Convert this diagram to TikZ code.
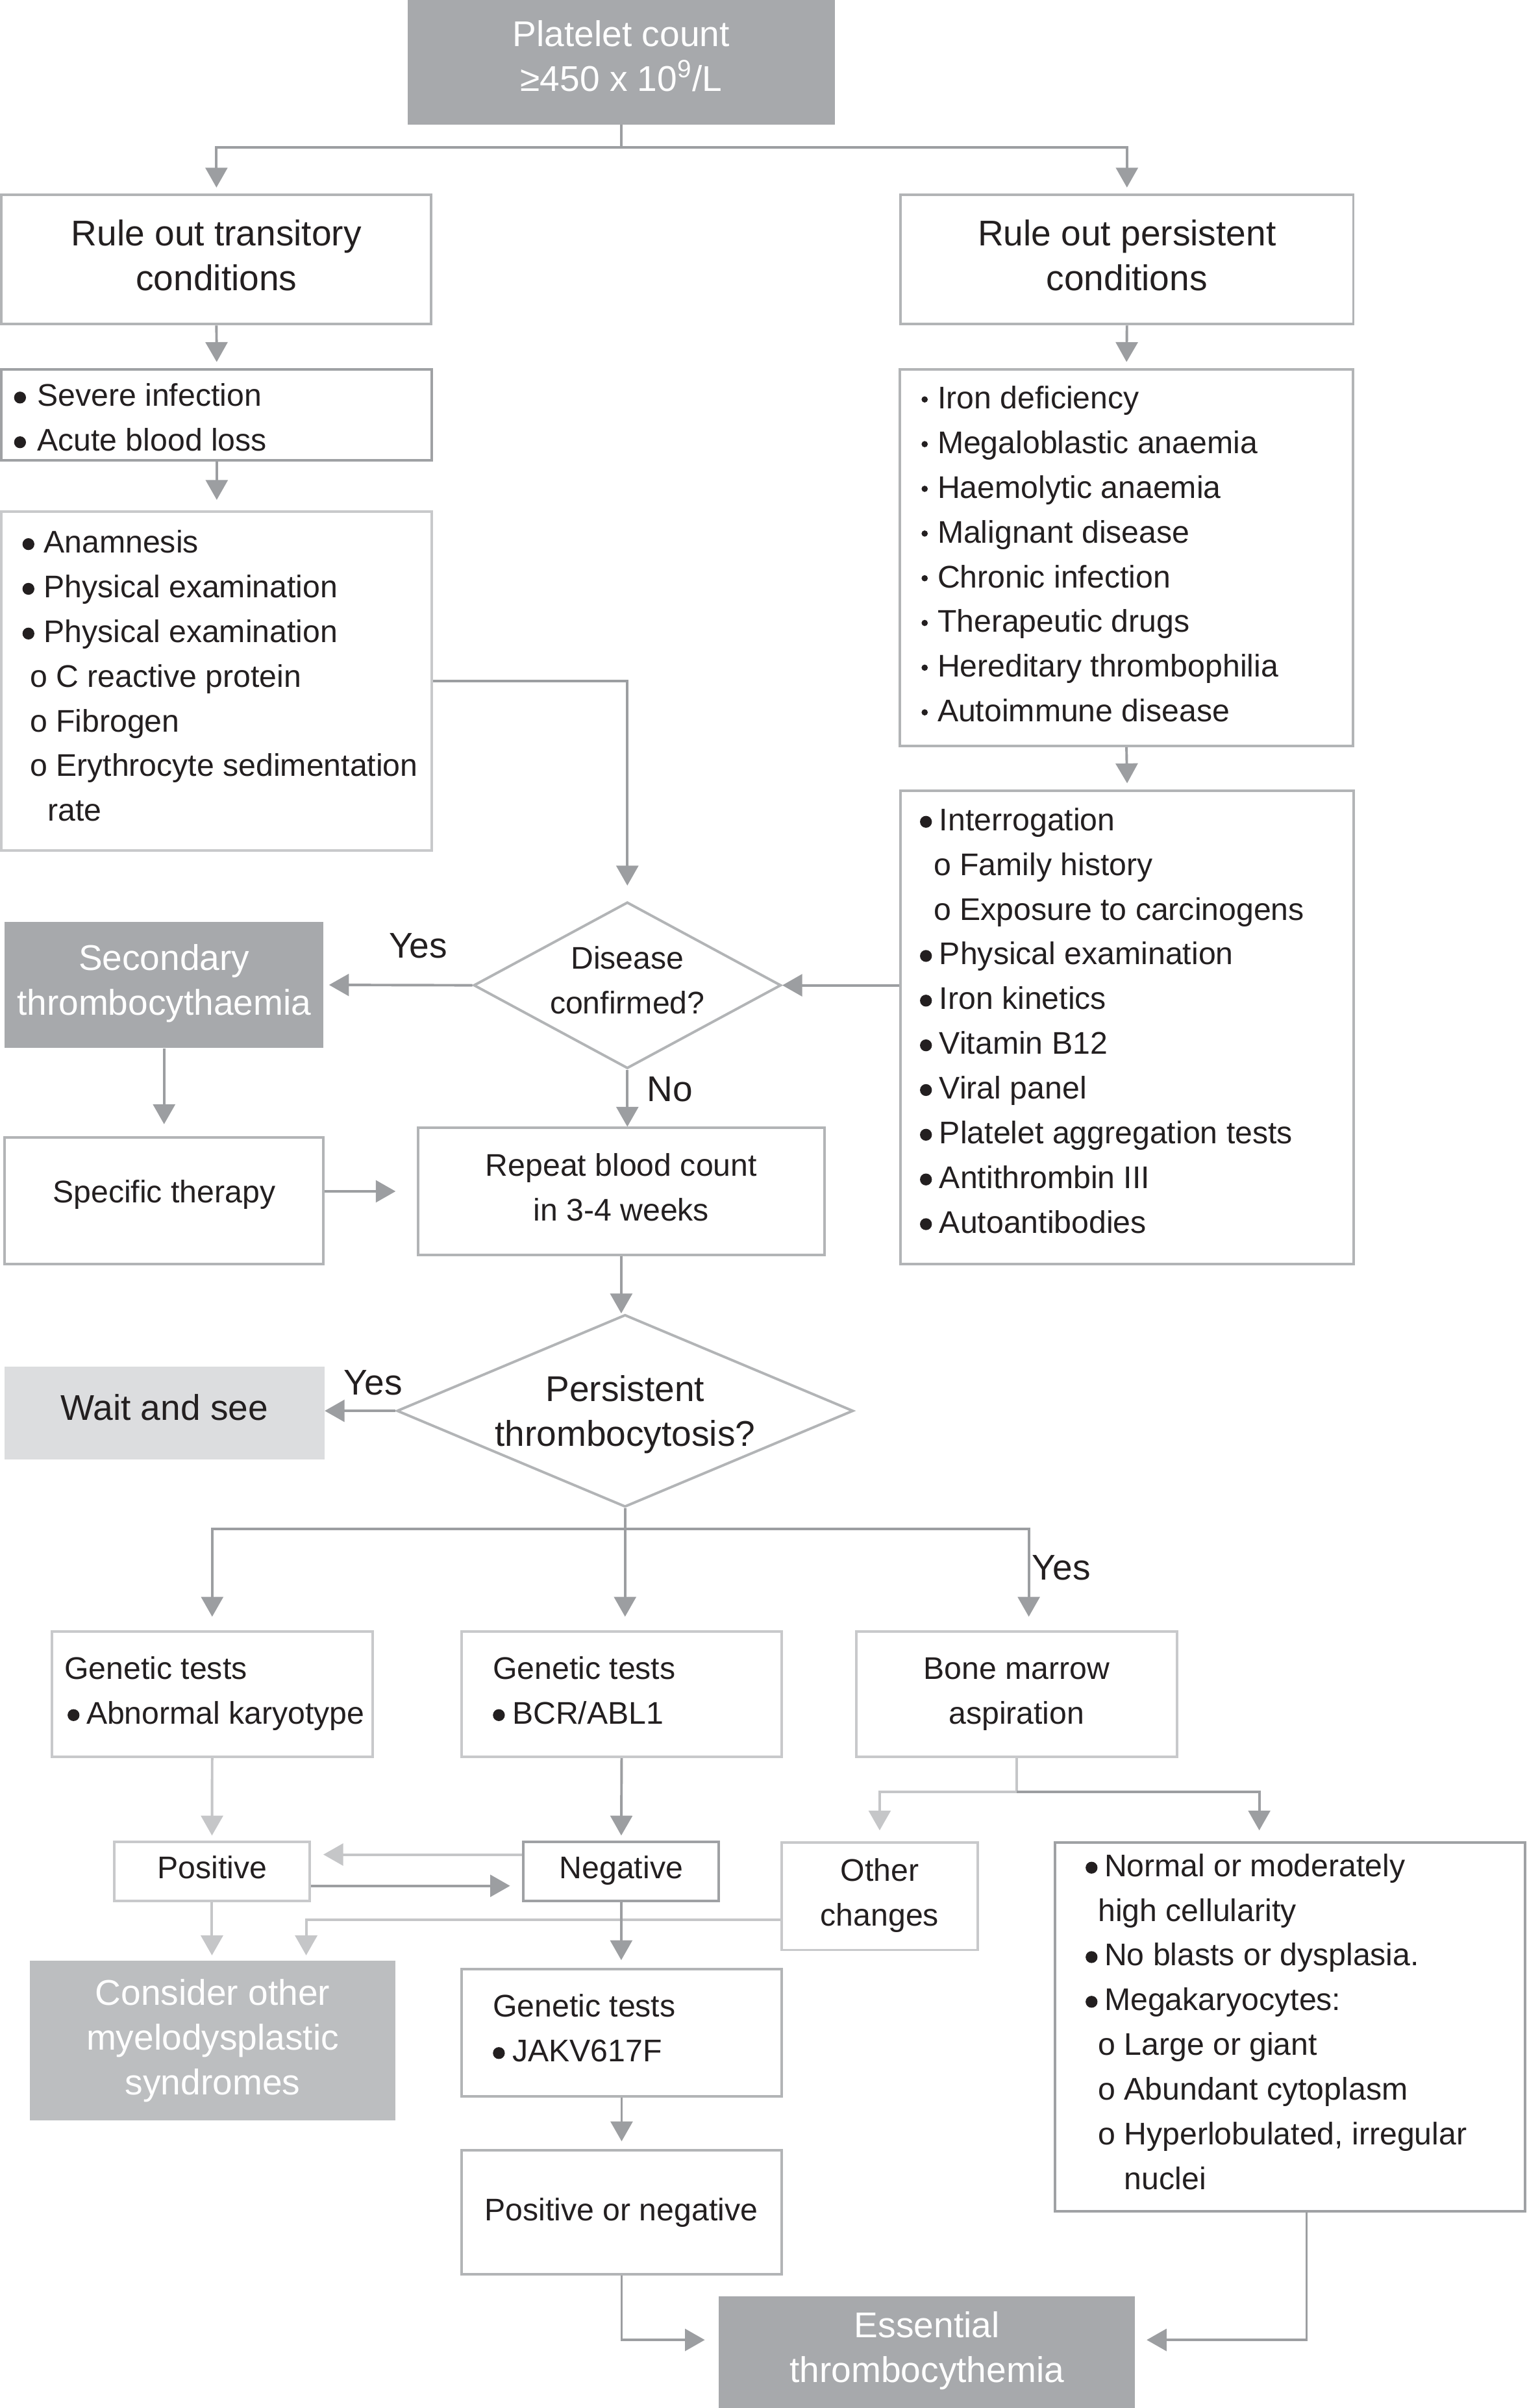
\documentclass[tikz,border=0pt]{standalone}
\usepackage{fontspec}
\setmainfont{Liberation Sans}
\usepackage{graphicx}
\usetikzlibrary{fit,shapes.geometric,arrows.meta}
\definecolor{gdark}{HTML}{A7A9AC}
\definecolor{gmid}{HTML}{BCBEC0}
\definecolor{glite}{HTML}{DCDDDF}
\definecolor{bordc}{HTML}{B2B4B6}
\definecolor{bordl}{HTML}{C8C9CB}
\definecolor{bordd}{HTML}{9FA1A4}
\definecolor{arrc}{HTML}{9C9EA1}
\definecolor{arrlc}{HTML}{C5C6C8}
\definecolor{textc}{HTML}{231F20}
\newcommand\fntS{\fontsize{17.5pt}{25pt}\selectfont}
\newcommand\fntL{\fontsize{20pt}{25pt}\selectfont}
\newcommand\sA{\rule{0pt}{16.3pt}}
\newcommand\sB{\rule[-3.76pt]{0pt}{3.76pt}}
\newcommand\lA{\rule{0pt}{18.6pt}}
\newcommand\lB{\rule[-4.28pt]{0pt}{4.28pt}}
\newcommand\bu[1]{\makebox[#1][l]{\tikz[baseline=0pt]\fill[textc] (0.19em,0.28em) circle[radius=0.19em];}}
\newcommand\sd{\makebox[0.51em][l]{\tikz[baseline=0pt]\fill[textc] (0.1em,0.3em) circle[radius=0.1em];}}
\tikzset{
  mybox/.style={draw=bordc, line width=0.5mm, inner sep=0pt, fill=white},
  myboxl/.style={mybox, draw=bordl},
  myboxd/.style={mybox, draw=bordd},
  myfill/.style={fill=#1, draw=none, inner sep=0pt},
  mydiam/.style={diamond, draw=bordc, line width=0.5mm, fill=white, inner sep=0pt},
  ts/.style={inner sep=0pt, font=\fntS, text=textc, align=left},
  tsc/.style={ts, align=center},
  tl/.style={inner sep=0pt, font=\fntL, text=textc, align=center},
  tw/.style={tl, text=white},
  myarr/.style={draw=arrc, line width=0.5mm, shorten >=1.2mm, -{Triangle[length=3.9mm,width=4.3mm]}},
  myarrl/.style={myarr, draw=arrlc},
  myline/.style={draw=arrc, line width=0.5mm},
  mylinel/.style={draw=arrlc, line width=0.5mm},
}
\begin{document}
\begin{tikzpicture}[x=0.3mm,y=-0.3mm]
\fill[white] (0,0) rectangle (1000,1577.6);
\useasboundingbox (0,0) rectangle (1000,1577.6);

% ---------- boxes ----------
\node[myfill=gdark, fit={(267,-4) (547,81.5)}] (plat) {};
\node[mybox, fit={(1,127.7) (282.6,212.4)}] (rt) {};
\node[mybox, fit={(590,127.7) (886.6,212.4)}] (rp) {};
\node[myboxd, fit={(1,242) (283,301.6)}] (sev) {};
\node[myboxl, fit={(1,335) (283,557)}] (anam) {};
\node[mybox, fit={(589.5,242) (886.5,488.7)}] (iron) {};
\node[mybox, fit={(590,518) (887,828)}] (inter) {};
\node[mydiam, minimum width=60.42mm, minimum height=32.7mm] (d1) at (411,645.5) {};
\node[myfill=gdark, fit={(3,604) (212,686.5)}] (sec) {};
\node[mybox, fit={(3,745) (212,828)}] (spec) {};
\node[mybox, fit={(274,739) (540,822)}] (rep) {};
\node[mydiam, minimum width=89.7mm, minimum height=37.8mm] (d2) at (409.5,924.3) {};
\node[myfill=glite, fit={(3,895.5) (212.5,956)}] (wait) {};
\node[myboxl, fit={(34,1069) (244,1151)}] (g1) {};
\node[myboxl, fit={(302.5,1069) (512,1151)}] (g2) {};
\node[myboxl, fit={(561,1069) (771,1151)}] (bm) {};
\node[myboxl, fit={(74.7,1206.7) (203,1245.3)}] (pos) {};
\node[myboxd, fit={(343,1206.7) (471,1245.3)}] (neg) {};
\node[myboxl, fit={(512,1207) (640.6,1277.5)}] (oth) {};
\node[myboxd, fit={(691,1207) (999,1448.7)}] (big) {};
\node[myfill=gmid, fit={(19.5,1284.6) (259,1389)}] (cons) {};
\node[mybox, fit={(302.5,1290) (512,1373.5)}] (jak) {};
\node[mybox, fit={(302.5,1408.7) (512,1490)}] (pn) {};
\node[myfill=gdark, fit={(471,1504.5) (743.5,1580)}] (ess) {};

% ---------- texts ----------
\node[tw] (platt) at (407,36.8) {\lA Platelet count\\≥450 x 10\textsuperscript{9}/L\lB};
\node[tl] (rtt) at (141.8,167.2) {\lA Rule out transitory\\conditions\lB};
\node[tl] (rpt) at (738.3,167.2) {\lA Rule out persistent\\conditions\lB};
\node[ts, anchor=west] (sevt) at (9,273.5) {\sA\bu{0.74em}Severe infection\\\bu{0.74em}Acute blood loss\sB};
\node[ts, anchor=west] (anamt) at (14.5,442.75) {\sA\bu{0.68em}Anamnesis\\
\bu{0.68em}Physical examination\\
\bu{0.68em}Physical examination\\
\hspace*{0.24em}o C reactive protein\\
\hspace*{0.24em}o Fibrogen\\
\hspace*{0.24em}o Erythrocyte sedimentation\\
\hspace*{0.8em}rate\sB};
\node[ts, anchor=west] (iront) at (603.5,363) {\sA\sd Iron deficiency\\
\sd Megaloblastic anaemia\\
\sd Haemolytic anaemia\\
\sd Malignant disease\\
\sd Chronic infection\\
\sd Therapeutic drugs\\
\sd Hereditary thrombophilia\\
\sd Autoimmune disease\sB};
\node[ts, anchor=west] (intert) at (602.5,668.6) {\sA\bu{0.62em}Interrogation\\
\hspace*{0.44em}o Family history\\
\hspace*{0.44em}o Exposure to carcinogens\\
\bu{0.62em}Physical examination\\
\bu{0.62em}Iron kinetics\\
\bu{0.62em}Vitamin B12\\
\bu{0.62em}Viral panel\\
\bu{0.62em}Platelet aggregation tests\\
\bu{0.62em}Antithrombin III\\
\bu{0.62em}Autoantibodies\sB};
\node[tsc] (d1t) at (411,642) {\sA Disease\\confirmed?\sB};
\node[tw] (sect) at (107.5,642) {\lA Secondary\\thrombocythaemia\lB};
\node[tsc] (spect) at (107.5,780.5) {\sA Specific therapy\sB};
\node[tsc] (rept) at (407,778) {\sA Repeat blood count\\in 3-4 weeks\sB};
\node[tl] (d2t) at (409.5,924.5) {\lA Persistent\\thrombocytosis?\lB};
\node[tl] (waitt) at (107.7,922) {\lA Wait and see\lB};
\node[ts, anchor=west] (g1t) at (42,1107.4) {\sA Genetic tests\\\hspace*{0.1em}\bu{0.6em}Abnormal karyotype\sB};
\node[ts, anchor=west] (g2t) at (322.7,1107.4) {\sA Genetic tests\\\bu{0.62em}BCR/ABL1\sB};
\node[tsc] (bmt) at (666,1107.4) {\sA Bone marrow\\aspiration\sB};
\node[tsc] (post) at (139,1223.5) {\sA Positive\sB};
\node[tsc] (negt) at (407,1223.5) {\sA Negative\sB};
\node[tsc] (otht) at (576.3,1239.6) {\sA Other\\changes\sB};
\node[ts, anchor=west] (bigt) at (711,1324.5) {\sA\bu{0.6em}Normal or moderately\\
\hspace*{0.4em}high cellularity\\
\bu{0.6em}No blasts or dysplasia.\\
\bu{0.6em}Megakaryocytes:\\
\hspace*{0.4em}o Large or giant\\
\hspace*{0.4em}o Abundant cytoplasm\\
\hspace*{0.4em}o Hyperlobulated, irregular\\
\hspace*{1.24em}nuclei\sB};
\node[tw] (const) at (139.3,1334.5) {\lA Consider other\\myelodysplastic\\syndromes\lB};
\node[ts, anchor=west] (jakt) at (322.7,1328.8) {\sA Genetic tests\\\bu{0.62em}JAKV617F\sB};
\node[tsc] (pnt) at (407,1447.5) {\sA Positive or negative\sB};
\node[tw] (esst) at (607.25,1537.75) {\lA Essential\\thrombocythemia\lB};

% ---------- labels ----------
\node[tl] (yes1) at (274,619) {\lA Yes\lB};
\node[tl] (no1) at (439,713) {\lA No\lB};
\node[tl] (yes2) at (244.5,905.3) {\lA Yes\lB};
\node[tl, anchor=west] (yes3) at (676,1026.5) {\lA Yes\lB};

% ---------- connectors ----------
\coordinate (b1) at (407,96.4);
\draw[myline] (plat.south) -- (b1);
\draw[myarr] (b1) -| (rt.north);
\draw[myarr] (b1) -| (rp.north);
\draw[myarr] (rt.south) -- (sev.north);
\draw[myarr, shorten >=2mm] (sev.south) -- (anam.north);
\draw[myarr, shorten >=3mm] (anam.east) -| (d1.north);
\draw[myarr] (rp.south) -- (iron.north);
\draw[myarr] (iron.south) -- (inter.north);
\draw[myarr, shorten >=0pt] (inter.west |- d1.east) -- (d1.east);
\draw[myarr, shorten >=1mm] (d1.west) -- (sec.east);
\draw[myarr, shorten >=2.3mm] (sec.south) -- (spec.north);
\draw[myarr, shorten >=4.2mm] (spec.east |- rep.west) -- (rep.west);
\draw[myarr, shorten >=0pt] (d1.south) -- (d1.south |- rep.north);
\draw[myarr, shorten >=0pt] (rep.south) -- (rep.south |- d2.north);
\draw[myarr, shorten >=0pt] (d2.west) -- (wait.east |- d2.west);
\coordinate (b2) at (409.5,1001.5);
\coordinate (b2r) at (674,1001.5);
\draw[myline] (d2.south) -- (b2);
\draw[myarr, shorten >=2.7mm] (b2) -| (g1.north);
\draw[myarr, shorten >=2.7mm] (b2) -- (b2 |- g2.north);
\draw[myarr, shorten >=2.7mm] (b2) -- (b2r) -- (b2r |- bm.north);
\draw[myarrl, shorten >=1mm] (g1.south) -- (pos.north);
\draw[myarr, shorten >=1mm] (g2.south) -- (neg.north);
\draw[myarrl, shorten >=2.4mm] ([yshift=3.3mm]neg.west) -- ([yshift=3.3mm]pos.east);
\draw[myarr, shorten >=2.4mm] ([yshift=-2.85mm]pos.east) -- ([yshift=-2.85mm]neg.west);
\coordinate (b3) at (666,1174);
\coordinate (b3r) at (825,1174);
\draw[mylinel] (bm.south) -- (b3);
\draw[myarrl, shorten >=2.1mm] (b3) -| (oth.north);
\draw[myarr, shorten >=2.1mm] (b3) -- (b3r) -- (b3r |- big.north);
\draw[myarrl, shorten >=1mm] ([yshift=-4.7mm]oth.west) -| ([xshift=18.4mm]cons.north);
\draw[myarrl, shorten >=1mm] (pos.south) -- (pos.south |- cons.north);
\draw[myarr, shorten >=1.5mm] (neg.south) -- (neg.south |- jak.north);
\draw[myarr, shorten >=1.5mm] (jak.south) -- (pn.north);
\draw[myarr, shorten >=2.7mm] (pn.south) |- ([yshift=2.78mm]ess.west);
\draw[myarr, shorten >=2.25mm] ([xshift=3.3mm]big.south) |- ([yshift=2.78mm]ess.east);
\end{tikzpicture}
\end{document}
